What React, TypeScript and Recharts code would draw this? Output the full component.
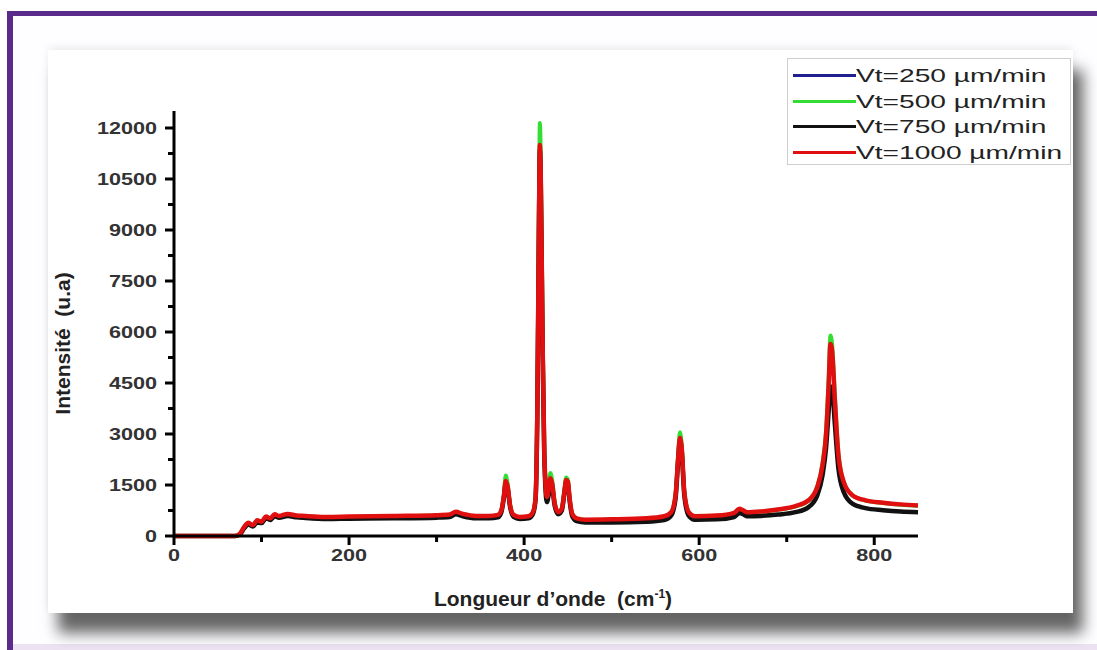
import { LineChart, Line, XAxis, YAxis, Legend, Label } from 'recharts';

// Raman spectra (cm-1 / u.a)
const wavenumber = [
  0, 50, 70, 75, 80, 85, 90, 95, 100, 105, 110, 115, 120, 130, 140, 150, 175, 200, 250, 300,
  315, 322, 330, 345, 360, 370, 374, 377, 379, 381, 384, 388, 395, 405, 410, 413, 415, 417, 418, 419,
  421, 423, 426, 428, 430, 432, 435, 439, 443, 446, 448, 450, 452, 455, 460, 470, 500, 540, 560, 568,
  573, 576, 578, 580, 583, 588, 595, 620, 640, 646, 650, 655, 670, 690, 710, 725, 735, 741, 745, 748,
  750, 752, 755, 759, 765, 775, 790, 810, 830, 850,
];

const vt1000 = [
  0, 0, 0, 60, 260, 390, 320, 460, 420, 570, 520, 640, 590, 650, 600, 590, 560, 570, 590, 610,
  630, 710, 650, 590, 590, 620, 760, 1200, 1620, 1480, 900, 620, 560, 580, 700, 1100, 3500, 9400, 11500, 10600,
  6000, 2500, 1150, 1350, 1700, 1550, 950, 700, 800, 1300, 1650, 1600, 1100, 650, 520, 480, 490, 520, 580, 700,
  1200, 2300, 2880, 2600, 1300, 700, 580, 600, 680, 800, 760, 700, 720, 780, 880, 1050, 1450, 2100, 3000, 4500,
  5650, 5400, 4000, 2400, 1600, 1200, 1050, 980, 930, 900,
];

const vt500 = [
  0, 0, 0, 50, 240, 370, 310, 440, 410, 550, 510, 620, 580, 630, 590, 580, 550, 560, 580, 600,
  620, 700, 640, 580, 580, 610, 770, 1250, 1780, 1560, 920, 620, 550, 570, 700, 1120, 3600, 9900, 12150, 11200,
  6300, 2600, 1200, 1450, 1850, 1650, 980, 700, 810, 1350, 1720, 1650, 1120, 650, 510, 470, 480, 510, 570, 700,
  1250, 2400, 3050, 2700, 1350, 700, 570, 590, 670, 790, 750, 690, 710, 770, 870, 1040, 1450, 2150, 3100, 4650,
  5900, 5600, 4150, 2450, 1600, 1200, 1040, 970, 920, 890,
];

const vt750 = [
  0, 0, 0, 40, 220, 340, 280, 400, 380, 520, 470, 580, 540, 590, 550, 530, 500, 510, 520, 540,
  560, 640, 580, 520, 520, 550, 700, 1150, 1550, 1420, 850, 560, 500, 520, 640, 1050, 3400, 9200, 11350, 10400,
  5800, 2400, 1000, 1200, 1600, 1450, 880, 640, 740, 1250, 1580, 1520, 1030, 580, 440, 400, 400, 420, 470, 600,
  1100, 2200, 2800, 2500, 1200, 600, 480, 490, 560, 680, 640, 580, 590, 630, 700, 850, 1200, 1800, 2600, 3700,
  4400, 4300, 3300, 2000, 1300, 950, 820, 760, 720, 700,
];

const vt250 = [
  0, 0, 0, 40, 220, 340, 280, 400, 380, 520, 470, 580, 540, 590, 550, 530, 500, 510, 520, 540,
  560, 640, 580, 520, 520, 550, 700, 1150, 1550, 1420, 850, 560, 500, 520, 640, 1050, 3400, 9200, 11300, 10400,
  5800, 2400, 1000, 1200, 1600, 1450, 880, 640, 740, 1250, 1580, 1520, 1030, 580, 440, 400, 400, 420, 470, 600,
  1100, 2200, 2800, 2500, 1200, 600, 480, 490, 560, 680, 640, 580, 590, 630, 700, 850, 1200, 1800, 2600, 3700,
  4400, 4300, 3300, 2000, 1300, 950, 820, 760, 720, 700,
];

const seriesKeys = ['vt250', 'vt500', 'vt750', 'vt1000'];
const seriesNames = ['Vt=250 µm/min', 'Vt=500 µm/min', 'Vt=750 µm/min', 'Vt=1000 µm/min'];
const seriesColors = ['#1f1f8f', '#33dd33', '#111111', '#e01010'];
const seriesWidths = [3, 4, 4.5, 4.5];

const yTicks = [0, 750, 1500, 2250, 3000, 3750, 4500, 5250, 6000, 6750, 7500, 8250, 9000, 9750, 10500, 11250, 12000];
const xTicks = [0, 100, 200, 300, 400, 500, 600, 700, 800];

const data = wavenumber.map((x, i) => ({
  x,
  vt250: vt250[i],
  vt500: vt500[i],
  vt750: vt750[i],
  vt1000: vt1000[i],
}));

const FONT = '"Liberation Sans", Arial, sans-serif';

const renderYTick = (props: any) => {
  const { x, y, payload } = props;
  const major = payload.value % 1500 === 0;
  return (
    <g key={`y-${payload.value}`}>
      <line x1={x - (major ? 9 : 6)} x2={x} y1={y} y2={y} stroke="#000" strokeWidth={3} />
      {major && (
        <text
          transform={`translate(${x - 17},${y + 6}) scale(1.35,1)`}
          textAnchor="end"
          fontFamily={FONT}
          fontSize={16}
          fontWeight="bold"
          fill="#333"
        >
          {payload.value}
        </text>
      )}
    </g>
  );
};

const renderXTick = (props: any) => {
  const { x, y, payload } = props;
  const major = payload.value % 200 === 0;
  return (
    <g key={`x-${payload.value}`}>
      <line x1={x} x2={x} y1={y} y2={y + (major ? 9 : 6)} stroke="#000" strokeWidth={3} />
      {major && (
        <text
          transform={`translate(${x},${y + 25}) scale(1.35,1)`}
          textAnchor="middle"
          fontFamily={FONT}
          fontSize={16}
          fontWeight="bold"
          fill="#333"
        >
          {payload.value}
        </text>
      )}
    </g>
  );
};

const LegendBox = () => (
  <div
    style={{
      border: '1px solid #cfcfcf',
      background: '#fff',
      width: 284,
      height: 107,
      boxSizing: 'border-box',
      paddingTop: 4,
    }}
  >
    {seriesNames.map((name, i) => (
      <div key={name} style={{ display: 'flex', alignItems: 'center', height: 25.5 }}>
        <div style={{ width: 63, height: 3, background: seriesColors[i], marginLeft: 5, flex: 'none' }} />
        <span
          style={{
            fontFamily: FONT,
            fontSize: 19,
            color: '#222',
            display: 'inline-block',
            transform: 'scaleX(1.48)',
            transformOrigin: 'left center',
            whiteSpace: 'nowrap',
            lineHeight: '25px',
          }}
        >
          {name}
        </span>
      </div>
    ))}
  </div>
);

export default function App() {
  return (
    <div style={{ position: 'absolute', left: 0, top: 0, width: 1097, height: 650, background: '#fff', overflow: 'hidden' }}>
      {/* frame */}
      <div style={{ position: 'absolute', left: 13, top: 16, width: 1084, height: 628, background: '#fefdff' }} />
      <div style={{ position: 'absolute', left: 7, top: 11, width: 1090, height: 5, background: '#5b2b8b' }} />
      <div style={{ position: 'absolute', left: 7, top: 11, width: 6, height: 639, background: '#5b2b8b' }} />
      <div style={{ position: 'absolute', left: 13, top: 644, width: 1084, height: 6, background: '#ece2f2' }} />
      {/* panel */}
      <div
        style={{
          position: 'absolute',
          left: 48,
          top: 50,
          width: 1025,
          height: 563,
          background: '#fff',
          boxShadow: '0 -3px 8px rgba(0,0,0,0.07), 10px 20px 14px rgba(0,0,0,0.6)',
        }}
      />
      <div style={{ position: 'absolute', left: 0, top: 0 }}>
        <LineChart width={1097} height={650} data={data} margin={{ top: 111, right: 179, bottom: 0, left: 0 }}>
          <XAxis
            dataKey="x"
            type="number"
            domain={[0, 850]}
            ticks={xTicks}
            interval={0}
            height={114}
            axisLine={{ stroke: '#000', strokeWidth: 3 }}
            tickLine={false}
            tickSize={0}
            tickMargin={0}
            tick={renderXTick}
          >
            <Label
              content={(p: any) => {
                const vb = p.viewBox;
                return (
                  <text
                    x={vb.x + vb.width / 2 + 7}
                    y={vb.y + 70}
                    textAnchor="middle"
                    fontFamily={FONT}
                    fontSize={21}
                    fontWeight="bold"
                    fill="#222"
                    style={{ whiteSpace: 'pre' }}
                  >
                    {'Longueur d’onde  (cm'}
                    <tspan dy={-8} fontSize={12}>-1</tspan>
                    <tspan dy={8}>)</tspan>
                  </text>
                );
              }}
            />
          </XAxis>
          <YAxis
            type="number"
            domain={[0, 12500]}
            ticks={yTicks}
            interval={0}
            width={174}
            axisLine={{ stroke: '#000', strokeWidth: 3 }}
            tickLine={false}
            tickSize={0}
            tickMargin={0}
            tick={renderYTick}
          >
            <Label
              content={(p: any) => {
                const vb = p.viewBox;
                return (
                  <text
                    transform={`translate(${vb.x + 70},${vb.y + vb.height / 2 + 20}) rotate(-90)`}
                    textAnchor="middle"
                    fontFamily={FONT}
                    fontSize={21}
                    fontWeight="bold"
                    fill="#222"
                    style={{ whiteSpace: 'pre' }}
                  >
                    {'Intensité  (u.a)'}
                  </text>
                );
              }}
            />
          </YAxis>
          <Legend
            layout="horizontal"
            verticalAlign="middle"
            align="center"
            content={() => <LegendBox />}
            wrapperStyle={{ left: 787, top: 58, width: 284, height: 107 }}
          />
          {seriesKeys.map((k, i) => (
            <Line
              key={k}
              dataKey={k}
              name={seriesNames[i]}
              type="monotone"
              stroke={seriesColors[i]}
              strokeWidth={seriesWidths[i]}
              dot={false}
              activeDot={false}
              isAnimationActive={false}
            />
          ))}
        </LineChart>
      </div>
    </div>
  );
}
